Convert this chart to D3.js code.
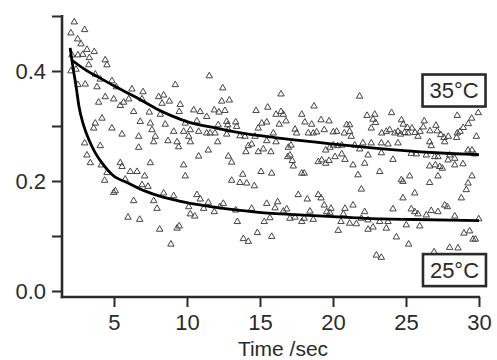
<!DOCTYPE html>
<html>
<head>
<meta charset="utf-8">
<script src="https://cdn.jsdelivr.net/npm/d3@7"></script>
<style>
  html, body { margin: 0; padding: 0; background: #fff; }
  svg { display: block; font-family: "Liberation Sans", Arial, sans-serif; }
</style>
</head>
<body>
<div id="chart"></div>
<script>
const width = 497;
const height = 360;
// plot box: y axis sits left of the first sample, x axis hangs a bit under zero
const plot = { left: 62, right: 479, top: 16, bottom: 291, xAxisY: 297 };

const xTicks = [5, 10, 15, 20, 25, 30];
const yTicks = [0, 0.1, 0.2, 0.3, 0.4, 0.5];
const yLabeled = [0, 0.2, 0.4];
const xTitle = 'Time /sec';

// scatter, [time s, value]
const points35 = [
    [2.99,0.475],[2.51,0.458],[2.74,0.449],[3.15,0.439],[3.65,0.435],[2.12,0.429],[2.53,0.429],[2.86,0.430],
    [3.31,0.424],[3.27,0.411],[4.40,0.420],[4.52,0.411],[2.40,0.403],[3.72,0.394],[4.06,0.385],[4.86,0.382],
    [5.16,0.371],[2.53,0.375],[3.03,0.376],[3.84,0.371],[6.23,0.367],[9.20,0.375],[6.99,0.362],[4.40,0.353],
    [4.98,0.349],[3.95,0.343],[5.66,0.343],[6.01,0.349],[8.06,0.353],[8.40,0.356],[8.79,0.345],[8.29,0.341],
    [6.92,0.349],[6.35,0.326],[7.42,0.325],[8.17,0.321],[9.54,0.339],[9.47,0.326],[10.46,0.329],[10.91,0.326],
    [5.43,0.337],[6.80,0.308],[7.49,0.305],[8.51,0.303],[9.88,0.305],[10.68,0.309],[4.18,0.314],[6.69,0.281],
    [7.60,0.293],[9.09,0.290],[9.77,0.290],[10.23,0.293],[10.80,0.290],[7.83,0.281],[10.12,0.281],
    [7.72,0.271],[8.70,0.273],[9.32,0.271],[9.43,0.262],[10.23,0.271],[10.80,0.245],
    [11.53,0.391],[12.45,0.369],[12.38,0.345],[12.90,0.347],[11.87,0.329],[12.19,0.325],[12.60,0.328],[16.44,0.358],
    [14.73,0.328],[15.53,0.334],[18.70,0.336],[16.10,0.321],[16.44,0.326],[16.60,0.321],[17.86,0.321],[19.18,0.311],
    [19.73,0.309],[11.35,0.317],[12.14,0.302],[12.72,0.308],[12.79,0.302],[13.34,0.307],[13.40,0.299],[15.12,0.305],
    [15.46,0.307],[16.32,0.303],[16.78,0.309],[18.08,0.307],[18.54,0.303],[20.94,0.302],[11.35,0.287],[11.58,0.287],
    [11.92,0.287],[12.83,0.293],[12.72,0.285],[13.63,0.282],[13.97,0.281],[14.66,0.281],[14.88,0.296],[15.91,0.287],
    [17.40,0.294],[17.51,0.287],[18.31,0.287],[18.65,0.287],[18.88,0.289],[19.40,0.293],[20.02,0.289],[20.25,0.290],
    [20.77,0.287],
    [11.46,0.256],[12.10,0.271],[12.83,0.245],[13.06,0.234],[14.20,0.264],[14.43,0.267],[14.04,0.253],[14.88,0.253],
    [15.23,0.258],[15.75,0.253],[15.46,0.273],[16.10,0.271],[16.94,0.261],[17.12,0.265],[16.90,0.244],[17.05,0.247],
    [17.21,0.237],[17.28,0.227],[17.86,0.214],[18.03,0.214],[15.07,0.217],[15.80,0.214],[18.99,0.235],[19.23,0.238],
    [19.50,0.232],[19.73,0.237],[19.50,0.256],[19.79,0.261],[20.02,0.265],[20.32,0.264],[20.60,0.265],[20.14,0.244],
    [20.60,0.249],[20.82,0.239],
    [21.82,0.354],[22.33,0.319],[22.86,0.321],[22.74,0.312],[22.92,0.306],[24.01,0.324],[24.69,0.311],[24.81,0.303],
    [25.09,0.297],[25.41,0.296],[25.62,0.288],[25.96,0.290],[26.25,0.309],[26.18,0.298],[26.64,0.291],[27.05,0.301],
    [27.14,0.291],[27.38,0.284],[27.60,0.279],[27.90,0.281],[28.47,0.279],[28.51,0.287],[28.70,0.290],[28.92,0.297],
    [29.27,0.304],[29.50,0.314],[29.95,0.324],[28.51,0.319],[29.82,0.281],[21.14,0.302],[21.14,0.290],[21.25,0.281],
    [22.62,0.296],[23.34,0.287],[23.65,0.290],[23.88,0.293],[24.23,0.287],[24.45,0.290],[24.64,0.285],[24.91,0.288],
    [25.14,0.287],[25.82,0.281],
    [21.49,0.265],[22.05,0.269],[22.62,0.269],[23.31,0.269],[23.77,0.267],[24.45,0.269],[21.83,0.258],[22.40,0.247],
    [23.31,0.251],[25.36,0.250],[25.71,0.249],[26.39,0.247],[26.73,0.264],[26.62,0.271],[26.97,0.244],[27.19,0.244],
    [27.65,0.271],[27.99,0.247],[27.88,0.238],[28.34,0.241],[29.25,0.256],[29.52,0.256],[29.70,0.249],[21.37,0.229],
    [22.17,0.232],[21.71,0.211],[23.20,0.217],[24.11,0.239],[24.68,0.202],[24.79,0.199],[25.25,0.209],[26.62,0.197],
    [27.19,0.209],[27.31,0.226],[26.62,0.227],[27.01,0.229],[27.49,0.223],[28.34,0.229],[28.90,0.231],[29.52,0.209],
    [29.25,0.196]
];

const points25 = [
    [2.28,0.489],[2.05,0.469],[2.05,0.400],[3.61,0.296],[3.72,0.305],[4.86,0.296],[5.55,0.285],
    [2.99,0.269],[4.06,0.264],[3.15,0.247],[3.38,0.233],[4.13,0.229],[5.43,0.233],[5.55,0.226],[6.12,0.217],
    [6.58,0.217],[7.10,0.209],[7.49,0.233],[6.69,0.261],[9.77,0.229],[9.88,0.209],[4.52,0.215],[4.36,0.201],
    [4.98,0.179],[5.09,0.182],[6.35,0.164],[6.92,0.193],[7.33,0.190],[5.77,0.203],[7.72,0.164],[7.95,0.150],
    [8.40,0.178],[9.09,0.173],[5.96,0.134],[6.76,0.130],[8.13,0.112],[9.32,0.114],[9.47,0.118],[8.90,0.085],
    [10.12,0.153],[10.23,0.140],[10.53,0.136],[10.68,0.175],[10.91,0.167],[11.14,0.150],
    [13.82,0.212],[13.63,0.197],[14.09,0.196],[14.61,0.191],[13.06,0.201],[11.46,0.161],[11.87,0.144],[12.49,0.159],
    [12.26,0.153],[13.34,0.147],[13.45,0.126],[14.43,0.150],[15.46,0.159],[16.21,0.162],[16.03,0.151],[15.29,0.126],
    [15.68,0.133],[14.82,0.106],[13.86,0.095],[14.20,0.090],[15.80,0.099],[16.83,0.149],[16.60,0.145],[17.05,0.132],
    [17.40,0.134],[17.86,0.126],[18.03,0.132],[17.62,0.175],[18.24,0.167],[18.42,0.145],[18.65,0.130],[18.99,0.175],
    [19.18,0.169],[19.40,0.156],[19.57,0.144],[19.86,0.150],[19.79,0.142],[20.55,0.126],[20.36,0.110],[20.82,0.150],
    [20.71,0.140],
    [21.94,0.185],[29.13,0.184],[28.79,0.169],[25.60,0.178],[24.79,0.169],[21.37,0.156],[22.17,0.144],[24.11,0.149],
    [25.36,0.149],[25.60,0.144],[25.82,0.140],[26.39,0.138],[26.73,0.146],[27.19,0.144],[27.65,0.156],[27.83,0.153],
    [28.34,0.136],[21.14,0.123],[21.60,0.122],[21.94,0.132],[22.40,0.129],[22.74,0.116],[22.40,0.112],[23.20,0.126],
    [23.77,0.126],[23.65,0.114],[25.02,0.120],[25.94,0.118],[29.98,0.131],[28.97,0.105],[29.36,0.109],[29.59,0.094],
    [29.75,0.094],[24.34,0.098],[25.18,0.085],[26.92,0.071],[27.99,0.079],[28.56,0.078],[22.97,0.065],[23.31,0.061]
];

// fitted curves
const fit35 = [
    [2.1,0.420],[3,0.403],[4,0.388],[5,0.373],[6,0.359],[7,0.345],[8,0.330],[9,0.318],[10,0.308],
    [12,0.296],[14,0.286],[16,0.279],[18,0.273],[20,0.267],[22,0.262],[24,0.257],[26,0.253],[28,0.250],[30,0.248]
];
const fit25 = [
    [2.0,0.442],[2.2,0.405],[2.4,0.373],[2.6,0.336],[2.9,0.303],[3.3,0.274],[3.7,0.252],[4.2,0.232],[4.9,0.211],
    [6,0.196],[7.1,0.182],[8.3,0.171],[9.4,0.164],[11,0.156],[13.5,0.147],[15.8,0.141],[18,0.138],[21,0.134],
    [23.3,0.131],[25.6,0.130],[28,0.129],[30,0.128]
];

// boxed tags, centre given in data units
const tags = [
    { text: '35°C', x: 28.29, y: 0.3645 },
    { text: '25°C', x: 28.32, y: 0.038 }
];

const ink = '#2b2b2b';

const svg = d3.select('#chart').append('svg')
    .attr('width', width)
    .attr('height', height);

const x = d3.scaleLinear()
    .domain([1.44, 30])
    .range([plot.left, plot.right]);

const y = d3.scaleLinear()
    .domain([0, 0.5])
    .range([plot.bottom, plot.top]);

// scatter first so the fits sit on top
const triangle = d3.symbol(d3.symbolTriangle, 18);
svg.append('g')
    .selectAll('path')
    .data(points35.concat(points25))
    .join('path')
    .attr('transform', d => `translate(${x(d[0])},${y(d[1])})`)
    .attr('d', triangle)
    .attr('fill', 'none')
    .attr('stroke', '#444')
    .attr('stroke-width', 1);

const line = d3.line()
    .x(d => x(d[0]))
    .y(d => y(d[1]))
    .curve(d3.curveMonotoneX);

svg.append('g')
    .selectAll('path')
    .data([fit35, fit25])
    .join('path')
    .attr('d', line)
    .attr('fill', 'none')
    .attr('stroke', '#000')
    .attr('stroke-width', 2.8)
    .attr('stroke-linejoin', 'round');

// axes
const xAxis = svg.append('g')
    .attr('transform', `translate(0,${plot.xAxisY})`)
    .call(d3.axisBottom(x).tickValues(xTicks).tickSize(10).tickSizeOuter(0).tickPadding(7));

const yAxis = svg.append('g')
    .attr('transform', `translate(${plot.left},0)`)
    .call(d3.axisLeft(y)
        .tickValues(yTicks)
        .tickSize(10)
        .tickSizeOuter(0)
        .tickPadding(6)
        .tickFormat(d => yLabeled.includes(d) ? d3.format('.1f')(d) : ''));

[xAxis, yAxis].forEach(g => {
    g.select('.domain').remove();
    g.selectAll('.tick line').attr('stroke', ink).attr('stroke-width', 2);
    g.selectAll('.tick text')
        .attr('fill', ink)
        .style('font-size', '22px')
        .style('font-family', '"Liberation Sans", Arial, sans-serif');
});

// axis spines, y runs down to meet the offset x axis
svg.append('line')
    .attr('x1', plot.left).attr('x2', plot.left)
    .attr('y1', y(0.5) - 1).attr('y2', plot.xAxisY + 1.25)
    .attr('stroke', ink).attr('stroke-width', 2.6);
svg.append('line')
    .attr('x1', plot.left - 1.25).attr('x2', x(30) + 1)
    .attr('y1', plot.xAxisY).attr('y2', plot.xAxisY)
    .attr('stroke', ink).attr('stroke-width', 2.6);

svg.append('text')
    .attr('x', 283)
    .attr('y', 356)
    .attr('text-anchor', 'middle')
    .attr('fill', ink)
    .style('font-size', '21px')
    .text(xTitle);

// tags
const tag = svg.append('g')
    .selectAll('g')
    .data(tags)
    .join('g')
    .attr('transform', d => `translate(${x(d.x)},${y(d.y)})`);

tag.append('rect')
    .attr('x', -31.5)
    .attr('y', -16)
    .attr('width', 63)
    .attr('height', 32)
    .attr('fill', '#fff')
    .attr('stroke', '#2a2a2a')
    .attr('stroke-width', 2.6);

tag.append('text')
    .attr('text-anchor', 'middle')
    .attr('dy', '0.36em')
    .attr('fill', ink)
    .style('font-size', '22px')
    .text(d => d.text);
</script>
</body>
</html>
